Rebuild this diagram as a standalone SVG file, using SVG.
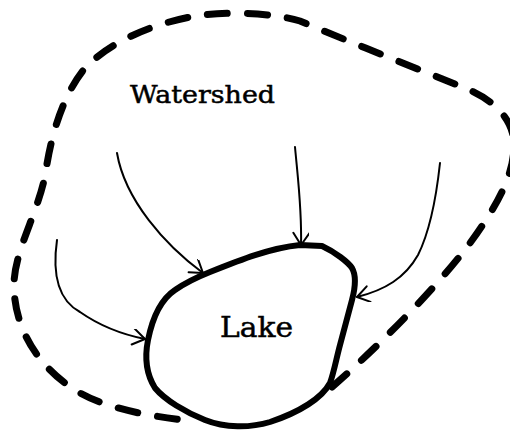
<svg xmlns="http://www.w3.org/2000/svg" width="510" height="430" viewBox="0 0 510 430">
<style>
.lbl{font-family:"DejaVu Serif","Liberation Serif",serif;fill:#000;stroke:#000;stroke-width:0.5}
.flow{fill:none;stroke:#000;stroke-width:2;stroke-linecap:round}
</style>
<defs>
<marker id="ah" markerWidth="20" markerHeight="20" refX="14" refY="8" orient="auto" markerUnits="userSpaceOnUse">
<path d="M2,0 L14,8 L2,16" fill="none" stroke="#000" stroke-width="2" stroke-linecap="round" stroke-linejoin="round"/>
</marker>
</defs>
<rect width="510" height="430" fill="#fff"/>
<g id="watershed">
<path d="M332,387 C380,345 450,275 482,226 C502,196 518,165 513,135 C508,115 492,98 460,86 C420,70 350,42 300,21 C270,12 220,11 190,17 C150,25 110,42 85,68 C65,92 52,130 46,170 C40,210 14,250 14,285 C14,330 40,370 80,393 C110,410 160,418 195,421" fill="none" stroke="#000" stroke-width="7" stroke-linecap="round" stroke-dasharray="20 20"/>
<text class="lbl" x="130" y="103" font-size="24" textLength="145" lengthAdjust="spacingAndGlyphs">Watershed</text>
</g>
<g id="lake">
<path d="M300,245 L322,246 C335,252 348,262 352,268 C356,275 356,285 352,300 L340,345 C336,360 334,372 330,383 C322,398 300,412 270,422 C250,428 225,428 205,420 C185,412 165,400 155,388 C145,372 145,355 148,340 C152,320 160,300 175,290 C185,283 195,278 210,272 C240,260 270,248 300,245 Z" fill="none" stroke="#000" stroke-width="6" stroke-linejoin="round"/>
<text class="lbl" x="220" y="337" font-size="27" textLength="73" lengthAdjust="spacingAndGlyphs">Lake</text>
</g>
<g id="connectors">
<path class="flow" d="M57,240 C52,275 58,300 80,312 C100,326 120,334 145,339" marker-end="url(#ah)"/>
<path class="flow" d="M117,153 C125,200 165,245 203,273" marker-end="url(#ah)"/>
<path class="flow" d="M295,147 C298,180 302,210 301,245" marker-end="url(#ah)"/>
<path class="flow" d="M440,163 C436,200 428,235 418,255 C405,278 385,290 357,297" marker-end="url(#ah)"/>
</g>
</svg>
